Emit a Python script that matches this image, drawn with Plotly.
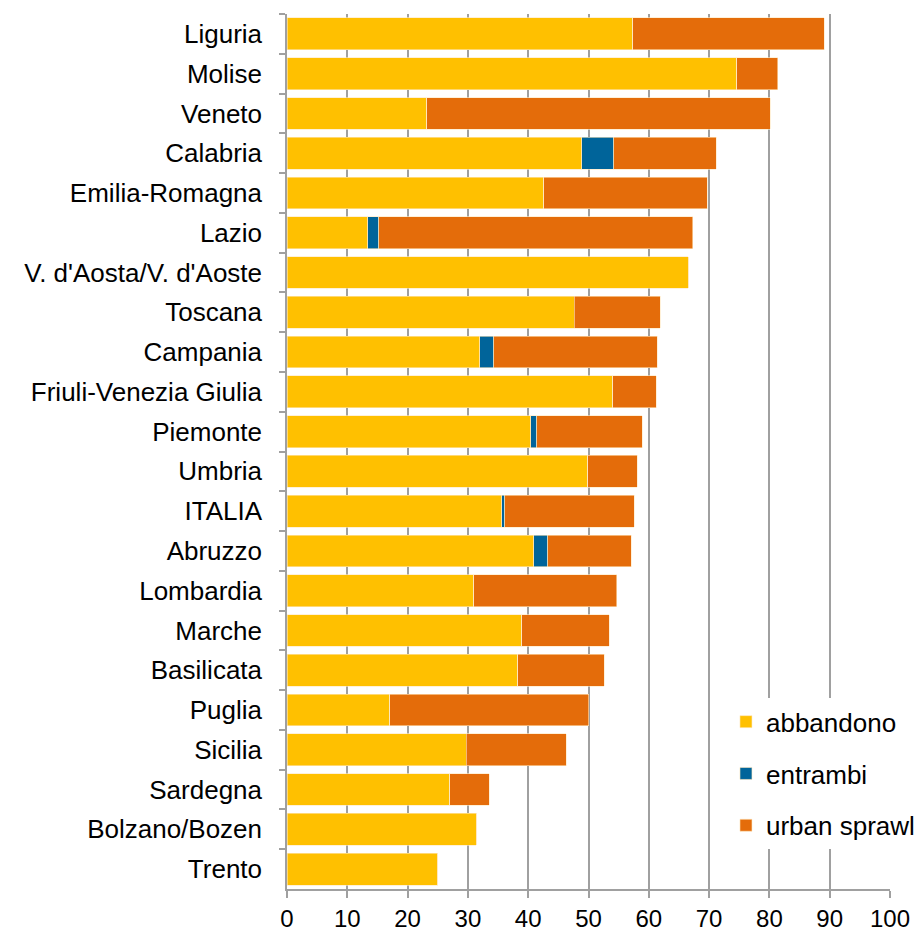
import plotly.graph_objects as go

regioni = ["Liguria", "Molise", "Veneto", "Calabria", "Emilia-Romagna", "Lazio",
           "V. d'Aosta/V. d'Aoste", "Toscana", "Campania", "Friuli-Venezia Giulia",
           "Piemonte", "Umbria", "ITALIA", "Abruzzo", "Lombardia", "Marche",
           "Basilicata", "Puglia", "Sicilia", "Sardegna", "Bolzano/Bozen", "Trento"]

abbandono = [57.3, 74.6, 23.2, 48.9, 42.6, 13.4, 66.5, 47.6, 32.0, 54.0, 40.4,
             49.9, 35.6, 40.9, 31.0, 38.9, 38.3, 17.0, 29.7, 27.0, 31.4, 25.0]
entrambi = [0.0, 0.0, 0.0, 5.3, 0.0, 1.8, 0.0, 0.0, 2.3, 0.0, 1.0,
            0.0, 0.5, 2.3, 0.0, 0.0, 0.0, 0.0, 0.0, 0.0, 0.0, 0.0]
urban_sprawl = [31.8, 6.8, 56.9, 17.0, 27.1, 52.1, 0.0, 14.3, 27.1, 7.2, 17.5,
                8.2, 21.5, 13.9, 23.7, 14.5, 14.3, 33.0, 16.6, 6.5, 0.0, 0.0]

serie = [("abbandono", abbandono, "#FFC000"),
         ("entrambi", entrambi, "#00649A"),
         ("urban sprawl", urban_sprawl, "#E46C0A")]

fig = go.Figure()
for nome, valori, colore in serie:
    fig.add_trace(go.Bar(
        y=regioni, x=valori, name=nome, orientation="h",
        marker=dict(color=colore, line=dict(color="#FFE8C0", width=0.6)),
        legendgroup=nome,
    ))

fig.update_layout(
    barmode="stack",
    bargap=0.2,
    width=919, height=940,
    margin=dict(l=287, r=29, t=14, b=51, autoexpand=False),
    plot_bgcolor="white",
    paper_bgcolor="white",
    font=dict(family="Liberation Sans, Arial, sans-serif", size=24, color="black"),
    legend=dict(
        x=0.728, y=0.218, xanchor="left", yanchor="top",
        bgcolor="white", traceorder="grouped", tracegroupgap=15,
        font=dict(size=26), itemwidth=30,
    ),
)

fig.update_xaxes(
    range=[0, 100], dtick=10, showgrid=True, gridcolor="#A0A0A0", gridwidth=1.5,
    showline=True, linecolor="#A0A0A0", linewidth=1.5,
    ticks="outside", ticklen=7, tickcolor="#A0A0A0", tickwidth=1.5, zeroline=False,
)
fig.update_yaxes(
    autorange="reversed", showline=True, linecolor="#A0A0A0", linewidth=1.5,
    ticks="outside", tickson="boundaries", ticklen=6, tickcolor="#A0A0A0", tickwidth=1.5,
    showgrid=False, ticklabelstandoff=18, tickfont=dict(size=26),
)

# no default page margin around the figure
fig.write_html("out.html", config={"displayModeBar": False},
               post_script="document.body.style.margin='0';")
